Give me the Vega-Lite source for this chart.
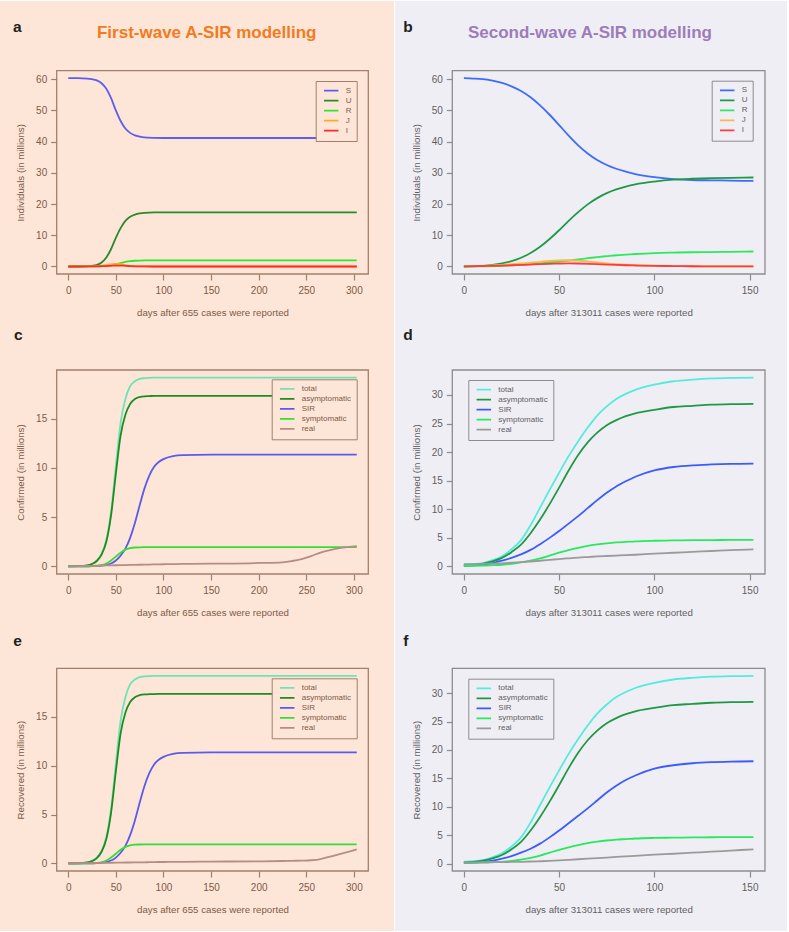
{
  "$schema": "https://vega.github.io/schema/vega-lite/v6.json",
  "background": "#ffffff",
  "padding": {"left": 0, "top": 1, "right": 2, "bottom": 1},
  "spacing": 1,
  "resolve": {"scale": {"color": "independent"}, "legend": {"color": "independent"}},
  "config": {
    "view": {"stroke": null},
    "font": "Liberation Sans",
    "axis": {"grid": false, "domain": false, "tickSize": 6, "tickWidth": 1.2, "labelFontSize": 10, "titleFontSize": 9.7, "titleFontWeight": "normal", "labelFlush": false, "labelOverlap": false, "labelFont": "Liberation Sans", "titleFont": "Liberation Sans"},
    "axisX": {"titlePadding": 12, "labelPadding": 5},
    "axisY": {"titlePadding": 10, "labelPadding": 4},
    "legend": {"orient": "none", "symbolType": "stroke", "symbolSize": 210, "symbolStrokeWidth": 2, "clipHeight": 9.3, "rowPadding": 0, "labelFontSize": 8, "labelFont": "Liberation Sans", "padding": 5, "labelOffset": 6, "symbolOffset": 2},
    "title": {"anchor": "start", "frame": "group", "fontSize": 15.5, "fontWeight": "bold", "color": "#231f20", "baseline": "alphabetic", "font": "Liberation Sans"},
    "line": {"interpolate": "monotone", "strokeWidth": 1.8}
  },
  "datasets": {
    "a": [
      {"day": 0, "S": 60.3, "U": 0, "R": 0, "J": 0, "I": 0},
      {"day": 10, "S": 60.3, "U": 0, "R": 0, "J": 0.01, "I": 0},
      {"day": 20, "S": 60.2, "U": 0.05, "R": 0.01, "J": 0.03, "I": 0.01},
      {"day": 25, "S": 60.0, "U": 0.2, "R": 0.02, "J": 0.06, "I": 0.02},
      {"day": 30, "S": 59.6, "U": 0.5, "R": 0.04, "J": 0.12, "I": 0.04},
      {"day": 35, "S": 58.7, "U": 1.3, "R": 0.09, "J": 0.25, "I": 0.08},
      {"day": 40, "S": 56.9, "U": 2.9, "R": 0.2, "J": 0.45, "I": 0.13},
      {"day": 45, "S": 53.9, "U": 5.6, "R": 0.4, "J": 0.7, "I": 0.22},
      {"day": 50, "S": 50.0, "U": 9.2, "R": 0.7, "J": 0.85, "I": 0.3},
      {"day": 55, "S": 46.6, "U": 12.3, "R": 1.1, "J": 0.75, "I": 0.3},
      {"day": 60, "S": 44.2, "U": 14.6, "R": 1.45, "J": 0.45, "I": 0.2},
      {"day": 65, "S": 42.8, "U": 15.9, "R": 1.7, "J": 0.2, "I": 0.1},
      {"day": 70, "S": 42.0, "U": 16.6, "R": 1.83, "J": 0.08, "I": 0.04},
      {"day": 75, "S": 41.6, "U": 17.0, "R": 1.9, "J": 0.03, "I": 0.02},
      {"day": 80, "S": 41.35, "U": 17.2, "R": 1.93, "J": 0.01, "I": 0.01},
      {"day": 90, "S": 41.2, "U": 17.3, "R": 1.95, "J": 0, "I": 0},
      {"day": 100, "S": 41.15, "U": 17.3, "R": 1.95, "J": 0, "I": 0},
      {"day": 150, "S": 41.15, "U": 17.3, "R": 1.95, "J": 0, "I": 0},
      {"day": 200, "S": 41.15, "U": 17.3, "R": 1.95, "J": 0, "I": 0},
      {"day": 250, "S": 41.15, "U": 17.3, "R": 1.95, "J": 0, "I": 0},
      {"day": 303, "S": 41.15, "U": 17.3, "R": 1.95, "J": 0, "I": 0}
    ],
    "b": [
      {"day": 0, "S": 60.3, "U": 0, "R": 0, "J": 0.05, "I": 0.05},
      {"day": 5, "S": 60.2, "U": 0.05, "R": 0.02, "J": 0.12, "I": 0.1},
      {"day": 10, "S": 60.0, "U": 0.2, "R": 0.05, "J": 0.2, "I": 0.15},
      {"day": 15, "S": 59.5, "U": 0.5, "R": 0.1, "J": 0.35, "I": 0.22},
      {"day": 20, "S": 58.8, "U": 1.0, "R": 0.2, "J": 0.5, "I": 0.3},
      {"day": 25, "S": 57.7, "U": 1.7, "R": 0.33, "J": 0.72, "I": 0.4},
      {"day": 30, "S": 56.2, "U": 2.8, "R": 0.5, "J": 0.95, "I": 0.5},
      {"day": 35, "S": 54.2, "U": 4.3, "R": 0.72, "J": 1.2, "I": 0.62},
      {"day": 40, "S": 51.6, "U": 6.3, "R": 1.0, "J": 1.5, "I": 0.75},
      {"day": 45, "S": 48.6, "U": 8.8, "R": 1.3, "J": 1.8, "I": 0.86},
      {"day": 50, "S": 45.3, "U": 11.6, "R": 1.6, "J": 1.95, "I": 0.95},
      {"day": 55, "S": 41.9, "U": 14.6, "R": 1.9, "J": 2.0, "I": 1.0},
      {"day": 60, "S": 38.8, "U": 17.4, "R": 2.3, "J": 1.85, "I": 0.95},
      {"day": 65, "S": 36.2, "U": 19.9, "R": 2.65, "J": 1.6, "I": 0.86},
      {"day": 70, "S": 34.1, "U": 21.9, "R": 3.0, "J": 1.3, "I": 0.75},
      {"day": 75, "S": 32.5, "U": 23.5, "R": 3.3, "J": 1.0, "I": 0.62},
      {"day": 80, "S": 31.3, "U": 24.7, "R": 3.6, "J": 0.75, "I": 0.5},
      {"day": 85, "S": 30.4, "U": 25.6, "R": 3.8, "J": 0.58, "I": 0.4},
      {"day": 90, "S": 29.6, "U": 26.3, "R": 4.0, "J": 0.45, "I": 0.32},
      {"day": 100, "S": 28.6, "U": 27.2, "R": 4.3, "J": 0.25, "I": 0.2},
      {"day": 110, "S": 28.0, "U": 27.8, "R": 4.45, "J": 0.13, "I": 0.12},
      {"day": 120, "S": 27.7, "U": 28.1, "R": 4.55, "J": 0.08, "I": 0.08},
      {"day": 130, "S": 27.6, "U": 28.3, "R": 4.6, "J": 0.05, "I": 0.05},
      {"day": 140, "S": 27.5, "U": 28.4, "R": 4.7, "J": 0.04, "I": 0.04},
      {"day": 152, "S": 27.4, "U": 28.5, "R": 4.8, "J": 0.03, "I": 0.03}
    ],
    "c": [
      {"day": 0, "total": 0, "asymptomatic": 0, "SIR": 0, "symptomatic": 0, "real": 0.02},
      {"day": 10, "total": 0.02, "asymptomatic": 0.02, "SIR": 0, "symptomatic": 0, "real": 0.04},
      {"day": 20, "total": 0.1, "asymptomatic": 0.1, "SIR": 0.01, "symptomatic": 0.01, "real": 0.05},
      {"day": 25, "total": 0.25, "asymptomatic": 0.25, "SIR": 0.02, "symptomatic": 0.02, "real": 0.06},
      {"day": 30, "total": 0.6, "asymptomatic": 0.55, "SIR": 0.05, "symptomatic": 0.05, "real": 0.07},
      {"day": 35, "total": 1.3, "asymptomatic": 1.2, "SIR": 0.09, "symptomatic": 0.12, "real": 0.08},
      {"day": 40, "total": 2.7, "asymptomatic": 2.5, "SIR": 0.15, "symptomatic": 0.3, "real": 0.1},
      {"day": 45, "total": 5.6, "asymptomatic": 5.2, "SIR": 0.3, "symptomatic": 0.6, "real": 0.11},
      {"day": 50, "total": 10.2, "asymptomatic": 9.4, "SIR": 0.6, "symptomatic": 1.0, "real": 0.12},
      {"day": 55, "total": 14.6, "asymptomatic": 13.3, "SIR": 1.1, "symptomatic": 1.4, "real": 0.13},
      {"day": 60, "total": 17.0, "asymptomatic": 15.4, "SIR": 1.8, "symptomatic": 1.7, "real": 0.14},
      {"day": 65, "total": 18.3, "asymptomatic": 16.5, "SIR": 2.9, "symptomatic": 1.85, "real": 0.15},
      {"day": 70, "total": 18.8, "asymptomatic": 17.0, "SIR": 4.4, "symptomatic": 1.92, "real": 0.16},
      {"day": 75, "total": 19.05, "asymptomatic": 17.2, "SIR": 6.2, "symptomatic": 1.94, "real": 0.17},
      {"day": 80, "total": 19.12, "asymptomatic": 17.28, "SIR": 7.9, "symptomatic": 1.95, "real": 0.18},
      {"day": 85, "total": 19.15, "asymptomatic": 17.3, "SIR": 9.2, "symptomatic": 1.95, "real": 0.19},
      {"day": 90, "total": 19.17, "asymptomatic": 17.32, "SIR": 10.1, "symptomatic": 1.95, "real": 0.2},
      {"day": 95, "total": 19.18, "asymptomatic": 17.33, "SIR": 10.6, "symptomatic": 1.95, "real": 0.21},
      {"day": 100, "total": 19.18, "asymptomatic": 17.33, "SIR": 10.9, "symptomatic": 1.95, "real": 0.22},
      {"day": 110, "total": 19.18, "asymptomatic": 17.33, "SIR": 11.2, "symptomatic": 1.95, "real": 0.24},
      {"day": 120, "total": 19.18, "asymptomatic": 17.33, "SIR": 11.3, "symptomatic": 1.95, "real": 0.25},
      {"day": 150, "total": 19.18, "asymptomatic": 17.33, "SIR": 11.35, "symptomatic": 1.95, "real": 0.28},
      {"day": 200, "total": 19.18, "asymptomatic": 17.33, "SIR": 11.35, "symptomatic": 1.95, "real": 0.35},
      {"day": 225, "total": 19.18, "asymptomatic": 17.33, "SIR": 11.35, "symptomatic": 1.95, "real": 0.42},
      {"day": 235, "total": 19.18, "asymptomatic": 17.33, "SIR": 11.35, "symptomatic": 1.95, "real": 0.55},
      {"day": 245, "total": 19.18, "asymptomatic": 17.33, "SIR": 11.35, "symptomatic": 1.95, "real": 0.75},
      {"day": 255, "total": 19.18, "asymptomatic": 17.33, "SIR": 11.35, "symptomatic": 1.95, "real": 1.05},
      {"day": 265, "total": 19.18, "asymptomatic": 17.33, "SIR": 11.35, "symptomatic": 1.95, "real": 1.4},
      {"day": 275, "total": 19.18, "asymptomatic": 17.33, "SIR": 11.35, "symptomatic": 1.95, "real": 1.65},
      {"day": 285, "total": 19.18, "asymptomatic": 17.33, "SIR": 11.35, "symptomatic": 1.95, "real": 1.85},
      {"day": 295, "total": 19.18, "asymptomatic": 17.33, "SIR": 11.35, "symptomatic": 1.95, "real": 1.98},
      {"day": 303, "total": 19.18, "asymptomatic": 17.33, "SIR": 11.35, "symptomatic": 1.95, "real": 2.07}
    ],
    "e": [
      {"day": 0, "total": 0, "asymptomatic": 0, "SIR": 0, "symptomatic": 0, "real": 0.02},
      {"day": 10, "total": 0.02, "asymptomatic": 0.02, "SIR": 0, "symptomatic": 0, "real": 0.03},
      {"day": 20, "total": 0.1, "asymptomatic": 0.1, "SIR": 0.01, "symptomatic": 0.01, "real": 0.04},
      {"day": 25, "total": 0.25, "asymptomatic": 0.25, "SIR": 0.02, "symptomatic": 0.02, "real": 0.05},
      {"day": 30, "total": 0.6, "asymptomatic": 0.55, "SIR": 0.05, "symptomatic": 0.05, "real": 0.05},
      {"day": 35, "total": 1.3, "asymptomatic": 1.2, "SIR": 0.09, "symptomatic": 0.12, "real": 0.06},
      {"day": 40, "total": 2.7, "asymptomatic": 2.5, "SIR": 0.15, "symptomatic": 0.3, "real": 0.06},
      {"day": 45, "total": 5.6, "asymptomatic": 5.2, "SIR": 0.3, "symptomatic": 0.6, "real": 0.07},
      {"day": 50, "total": 10.2, "asymptomatic": 9.4, "SIR": 0.6, "symptomatic": 1.0, "real": 0.08},
      {"day": 55, "total": 14.6, "asymptomatic": 13.3, "SIR": 1.1, "symptomatic": 1.4, "real": 0.09},
      {"day": 60, "total": 17.0, "asymptomatic": 15.4, "SIR": 1.8, "symptomatic": 1.7, "real": 0.1},
      {"day": 65, "total": 18.3, "asymptomatic": 16.5, "SIR": 2.9, "symptomatic": 1.85, "real": 0.1},
      {"day": 70, "total": 18.8, "asymptomatic": 17.0, "SIR": 4.4, "symptomatic": 1.92, "real": 0.11},
      {"day": 75, "total": 19.05, "asymptomatic": 17.2, "SIR": 6.2, "symptomatic": 1.94, "real": 0.12},
      {"day": 80, "total": 19.12, "asymptomatic": 17.28, "SIR": 7.9, "symptomatic": 1.95, "real": 0.12},
      {"day": 85, "total": 19.15, "asymptomatic": 17.3, "SIR": 9.2, "symptomatic": 1.95, "real": 0.13},
      {"day": 90, "total": 19.17, "asymptomatic": 17.32, "SIR": 10.1, "symptomatic": 1.95, "real": 0.14},
      {"day": 95, "total": 19.18, "asymptomatic": 17.33, "SIR": 10.6, "symptomatic": 1.95, "real": 0.15},
      {"day": 100, "total": 19.18, "asymptomatic": 17.33, "SIR": 10.9, "symptomatic": 1.95, "real": 0.15},
      {"day": 110, "total": 19.18, "asymptomatic": 17.33, "SIR": 11.2, "symptomatic": 1.95, "real": 0.16},
      {"day": 120, "total": 19.18, "asymptomatic": 17.33, "SIR": 11.3, "symptomatic": 1.95, "real": 0.17},
      {"day": 150, "total": 19.18, "asymptomatic": 17.33, "SIR": 11.35, "symptomatic": 1.95, "real": 0.19},
      {"day": 200, "total": 19.18, "asymptomatic": 17.33, "SIR": 11.35, "symptomatic": 1.95, "real": 0.22},
      {"day": 225, "total": 19.18, "asymptomatic": 17.33, "SIR": 11.35, "symptomatic": 1.95, "real": 0.25},
      {"day": 235, "total": 19.18, "asymptomatic": 17.33, "SIR": 11.35, "symptomatic": 1.95, "real": 0.27},
      {"day": 245, "total": 19.18, "asymptomatic": 17.33, "SIR": 11.35, "symptomatic": 1.95, "real": 0.29},
      {"day": 255, "total": 19.18, "asymptomatic": 17.33, "SIR": 11.35, "symptomatic": 1.95, "real": 0.33},
      {"day": 265, "total": 19.18, "asymptomatic": 17.33, "SIR": 11.35, "symptomatic": 1.95, "real": 0.45},
      {"day": 275, "total": 19.18, "asymptomatic": 17.33, "SIR": 11.35, "symptomatic": 1.95, "real": 0.7},
      {"day": 285, "total": 19.18, "asymptomatic": 17.33, "SIR": 11.35, "symptomatic": 1.95, "real": 0.95},
      {"day": 295, "total": 19.18, "asymptomatic": 17.33, "SIR": 11.35, "symptomatic": 1.95, "real": 1.22},
      {"day": 303, "total": 19.18, "asymptomatic": 17.33, "SIR": 11.35, "symptomatic": 1.95, "real": 1.45}
    ],
    "d": [
      {"day": 0, "total": 0.3, "asymptomatic": 0.2, "SIR": 0.1, "symptomatic": 0.1, "real": 0.4},
      {"day": 5, "total": 0.4, "asymptomatic": 0.3, "SIR": 0.2, "symptomatic": 0.12, "real": 0.42},
      {"day": 10, "total": 0.6, "asymptomatic": 0.5, "SIR": 0.35, "symptomatic": 0.15, "real": 0.45},
      {"day": 15, "total": 1.1, "asymptomatic": 0.9, "SIR": 0.6, "symptomatic": 0.22, "real": 0.5},
      {"day": 20, "total": 1.8, "asymptomatic": 1.5, "SIR": 1.0, "symptomatic": 0.3, "real": 0.55},
      {"day": 25, "total": 3.0, "asymptomatic": 2.5, "SIR": 1.5, "symptomatic": 0.45, "real": 0.65},
      {"day": 30, "total": 4.6, "asymptomatic": 3.8, "SIR": 2.1, "symptomatic": 0.7, "real": 0.75},
      {"day": 35, "total": 7.2, "asymptomatic": 5.8, "SIR": 2.9, "symptomatic": 1.0, "real": 0.87},
      {"day": 40, "total": 10.3, "asymptomatic": 8.2, "SIR": 3.9, "symptomatic": 1.4, "real": 1.0},
      {"day": 45, "total": 13.4, "asymptomatic": 10.9, "SIR": 5.0, "symptomatic": 1.9, "real": 1.15},
      {"day": 50, "total": 16.4, "asymptomatic": 13.8, "SIR": 6.2, "symptomatic": 2.4, "real": 1.3},
      {"day": 55, "total": 19.3, "asymptomatic": 16.8, "SIR": 7.5, "symptomatic": 2.85, "real": 1.43},
      {"day": 60, "total": 21.9, "asymptomatic": 19.5, "SIR": 8.8, "symptomatic": 3.25, "real": 1.55},
      {"day": 65, "total": 24.3, "asymptomatic": 21.7, "SIR": 10.2, "symptomatic": 3.6, "real": 1.65},
      {"day": 70, "total": 26.4, "asymptomatic": 23.4, "SIR": 11.6, "symptomatic": 3.85, "real": 1.75},
      {"day": 75, "total": 28.0, "asymptomatic": 24.7, "SIR": 12.9, "symptomatic": 4.05, "real": 1.83},
      {"day": 80, "total": 29.3, "asymptomatic": 25.6, "SIR": 14.0, "symptomatic": 4.2, "real": 1.9},
      {"day": 85, "total": 30.2, "asymptomatic": 26.3, "SIR": 14.9, "symptomatic": 4.3, "real": 1.97},
      {"day": 90, "total": 30.9, "asymptomatic": 26.8, "SIR": 15.7, "symptomatic": 4.4, "real": 2.05},
      {"day": 100, "total": 31.8, "asymptomatic": 27.4, "SIR": 16.8, "symptomatic": 4.5, "real": 2.25},
      {"day": 110, "total": 32.4, "asymptomatic": 27.9, "SIR": 17.4, "symptomatic": 4.55, "real": 2.4},
      {"day": 120, "total": 32.7, "asymptomatic": 28.1, "SIR": 17.7, "symptomatic": 4.6, "real": 2.55},
      {"day": 130, "total": 32.9, "asymptomatic": 28.3, "SIR": 17.85, "symptomatic": 4.62, "real": 2.7},
      {"day": 140, "total": 33.0, "asymptomatic": 28.4, "SIR": 17.95, "symptomatic": 4.64, "real": 2.85},
      {"day": 152, "total": 33.05, "asymptomatic": 28.45, "SIR": 18.0, "symptomatic": 4.65, "real": 3.0}
    ],
    "f": [
      {"day": 0, "total": 0.3, "asymptomatic": 0.2, "SIR": 0.1, "symptomatic": 0.1, "real": 0.2},
      {"day": 5, "total": 0.4, "asymptomatic": 0.3, "SIR": 0.15, "symptomatic": 0.12, "real": 0.21},
      {"day": 10, "total": 0.6, "asymptomatic": 0.5, "SIR": 0.3, "symptomatic": 0.15, "real": 0.22},
      {"day": 15, "total": 1.1, "asymptomatic": 0.9, "SIR": 0.5, "symptomatic": 0.22, "real": 0.23},
      {"day": 20, "total": 1.8, "asymptomatic": 1.5, "SIR": 0.85, "symptomatic": 0.3, "real": 0.25},
      {"day": 25, "total": 3.0, "asymptomatic": 2.5, "SIR": 1.3, "symptomatic": 0.45, "real": 0.27},
      {"day": 30, "total": 4.6, "asymptomatic": 3.8, "SIR": 1.9, "symptomatic": 0.7, "real": 0.3},
      {"day": 35, "total": 7.2, "asymptomatic": 5.8, "SIR": 2.6, "symptomatic": 1.0, "real": 0.35},
      {"day": 40, "total": 10.3, "asymptomatic": 8.2, "SIR": 3.5, "symptomatic": 1.4, "real": 0.4},
      {"day": 45, "total": 13.4, "asymptomatic": 10.9, "SIR": 4.6, "symptomatic": 1.9, "real": 0.47},
      {"day": 50, "total": 16.4, "asymptomatic": 13.8, "SIR": 5.8, "symptomatic": 2.4, "real": 0.55},
      {"day": 55, "total": 19.3, "asymptomatic": 16.8, "SIR": 7.1, "symptomatic": 2.85, "real": 0.65},
      {"day": 60, "total": 21.9, "asymptomatic": 19.5, "SIR": 8.4, "symptomatic": 3.25, "real": 0.75},
      {"day": 65, "total": 24.3, "asymptomatic": 21.7, "SIR": 9.7, "symptomatic": 3.6, "real": 0.85},
      {"day": 70, "total": 26.4, "asymptomatic": 23.4, "SIR": 11.1, "symptomatic": 3.85, "real": 0.95},
      {"day": 75, "total": 28.0, "asymptomatic": 24.7, "SIR": 12.5, "symptomatic": 4.05, "real": 1.05},
      {"day": 80, "total": 29.3, "asymptomatic": 25.6, "SIR": 13.7, "symptomatic": 4.2, "real": 1.15},
      {"day": 85, "total": 30.2, "asymptomatic": 26.3, "SIR": 14.7, "symptomatic": 4.3, "real": 1.25},
      {"day": 90, "total": 30.9, "asymptomatic": 26.8, "SIR": 15.5, "symptomatic": 4.4, "real": 1.35},
      {"day": 100, "total": 31.8, "asymptomatic": 27.4, "SIR": 16.7, "symptomatic": 4.5, "real": 1.55},
      {"day": 110, "total": 32.4, "asymptomatic": 27.9, "SIR": 17.3, "symptomatic": 4.55, "real": 1.72},
      {"day": 120, "total": 32.7, "asymptomatic": 28.1, "SIR": 17.65, "symptomatic": 4.6, "real": 1.9},
      {"day": 130, "total": 32.9, "asymptomatic": 28.3, "SIR": 17.85, "symptomatic": 4.62, "real": 2.08},
      {"day": 140, "total": 33.0, "asymptomatic": 28.4, "SIR": 17.95, "symptomatic": 4.64, "real": 2.27},
      {"day": 152, "total": 33.05, "asymptomatic": 28.45, "SIR": 18.0, "symptomatic": 4.65, "real": 2.5}
    ]
  },
  "hconcat": [
    {
      "spacing": 0,
      "resolve": {"scale": {"color": "independent"}, "legend": {"color": "independent"}},
      "vconcat": [
        {
          "width": 394, "height": 321,
          "view": {"fill": "#fde6d8", "stroke": null},
          "title": {"text": "a", "offset": -34, "dx": 13},
          "layer": [
            {
              "data": {"values": [{}]},
              "mark": {"type": "rect", "fill": "transparent", "stroke": "#a0806c", "strokeWidth": 1.3},
              "encoding": {
                "x": {"datum": -12.12, "type": "quantitative", "scale": {"domain": [-12.12, 315.12], "range": [56.7, 368.3], "nice": false, "zero": false}},
                "x2": {"datum": 315.12},
                "y": {"datum": -2.41, "type": "quantitative", "scale": {"domain": [-2.41, 62.71], "range": [273, 69.7], "nice": false, "zero": false}},
                "y2": {"datum": 62.71}
              }
            },
            {
              "data": {"name": "a"},
              "transform": [{"fold": ["S", "U", "R", "J", "I"], "as": ["series", "value"]}],
              "mark": {"type": "line"},
              "encoding": {
                "x": {"field": "day", "type": "quantitative", "scale": {"domain": [-12.12, 315.12], "range": [56.7, 368.3], "nice": false, "zero": false},
                  "axis": {"values": [0, 50, 100, 150, 200, 250, 300], "format": "d", "offset": -48, "title": "days after 655 cases were reported", "tickColor": "#a0806c", "labelColor": "#7d5a46", "titleColor": "#7d5a46"}},
                "y": {"field": "value", "type": "quantitative", "scale": {"domain": [-2.41, 62.71], "range": [273, 69.7], "nice": false, "zero": false},
                  "axis": {"values": [0, 10, 20, 30, 40, 50, 60], "format": "d", "offset": -56.7, "title": "Individuals (in millions)", "tickColor": "#a0806c", "labelColor": "#7d5a46", "titleColor": "#7d5a46"}},
                "color": {"field": "series", "type": "nominal",
                  "scale": {"domain": ["S", "U", "R", "J", "I"], "range": ["#5d5df0", "#2a8a2a", "#2ee62e", "#ffaa22", "#ff2a2a"]},
                  "legend": {"title": null, "orient": "none", "legendX": 315.7, "legendY": 80, "labelColor": "#7d5a46", "strokeColor": "#a0806c", "fillColor": "#fde6d8"}}
              }
            },
            {
              "data": {"values": [{}]},
              "mark": {"type": "text", "text": "First-wave A-SIR modelling", "font": "Liberation Sans", "fontSize": 17, "fontWeight": "bold", "color": "#f47a20", "align": "center", "baseline": "alphabetic"},
              "encoding": {
                "x": {"datum": 145.4, "type": "quantitative", "scale": {"domain": [-12.12, 315.12], "range": [56.7, 368.3], "nice": false, "zero": false}},
                "y": {"datum": 73.09, "type": "quantitative", "scale": {"domain": [-2.41, 62.71], "range": [273, 69.7], "nice": false, "zero": false}}
              }
            }
          ]
        },
        {
          "width": 394, "height": 298,
          "view": {"fill": "#fde6d8", "stroke": null},
          "title": {"text": "c", "offset": -21.3, "dx": 14},
          "layer": [
            {
              "data": {"values": [{}]},
              "mark": {"type": "rect", "fill": "transparent", "stroke": "#a0806c", "strokeWidth": 1.3},
              "encoding": {
                "x": {"datum": -12.12, "type": "quantitative", "scale": {"domain": [-12.12, 315.12], "range": [56.7, 368.3], "nice": false, "zero": false}},
                "x2": {"datum": 315.12},
                "y": {"datum": -0.77, "type": "quantitative", "scale": {"domain": [-0.77, 19.95], "range": [252, 48], "nice": false, "zero": false}},
                "y2": {"datum": 19.95}
              }
            },
            {
              "data": {"name": "c"},
              "transform": [{"fold": ["total", "asymptomatic", "SIR", "symptomatic", "real"], "as": ["series", "value"]}],
              "mark": {"type": "line"},
              "encoding": {
                "x": {"field": "day", "type": "quantitative", "scale": {"domain": [-12.12, 315.12], "range": [56.7, 368.3], "nice": false, "zero": false},
                  "axis": {"values": [0, 50, 100, 150, 200, 250, 300], "format": "d", "offset": -46, "title": "days after 655 cases were reported", "tickColor": "#a0806c", "labelColor": "#7d5a46", "titleColor": "#7d5a46"}},
                "y": {"field": "value", "type": "quantitative", "scale": {"domain": [-0.77, 19.95], "range": [252, 48], "nice": false, "zero": false},
                  "axis": {"values": [0, 5, 10, 15], "format": "d", "offset": -56.7, "title": "Confirmed (in millions)", "tickColor": "#a0806c", "labelColor": "#7d5a46", "titleColor": "#7d5a46"}},
                "color": {"field": "series", "type": "nominal",
                  "scale": {"domain": ["total", "asymptomatic", "SIR", "symptomatic", "real"], "range": ["#6fe3b5", "#1f8c1f", "#5a5aec", "#34de34", "#b58d85"]},
                  "legend": {"title": null, "orient": "none", "legendX": 271.7, "legendY": 57.3, "labelColor": "#7d5a46", "strokeColor": "#a0806c", "fillColor": "#fde6d8"}}
              }
            }
          ]
        },
        {
          "width": 394, "height": 311,
          "view": {"fill": "#fde6d8", "stroke": null},
          "title": {"text": "e", "offset": -29, "dx": 13.3},
          "layer": [
            {
              "data": {"values": [{}]},
              "mark": {"type": "rect", "fill": "transparent", "stroke": "#a0806c", "strokeWidth": 1.3},
              "encoding": {
                "x": {"datum": -12.12, "type": "quantitative", "scale": {"domain": [-12.12, 315.12], "range": [56.7, 368.3], "nice": false, "zero": false}},
                "x2": {"datum": 315.12},
                "y": {"datum": -0.77, "type": "quantitative", "scale": {"domain": [-0.77, 19.95], "range": [251, 48.3], "nice": false, "zero": false}},
                "y2": {"datum": 19.95}
              }
            },
            {
              "data": {"name": "e"},
              "transform": [{"fold": ["total", "asymptomatic", "SIR", "symptomatic", "real"], "as": ["series", "value"]}],
              "mark": {"type": "line"},
              "encoding": {
                "x": {"field": "day", "type": "quantitative", "scale": {"domain": [-12.12, 315.12], "range": [56.7, 368.3], "nice": false, "zero": false},
                  "axis": {"values": [0, 50, 100, 150, 200, 250, 300], "format": "d", "offset": -60, "title": "days after 655 cases were reported", "tickColor": "#a0806c", "labelColor": "#7d5a46", "titleColor": "#7d5a46"}},
                "y": {"field": "value", "type": "quantitative", "scale": {"domain": [-0.77, 19.95], "range": [251, 48.3], "nice": false, "zero": false},
                  "axis": {"values": [0, 5, 10, 15], "format": "d", "offset": -56.7, "title": "Recovered (in millions)", "tickColor": "#a0806c", "labelColor": "#7d5a46", "titleColor": "#7d5a46"}},
                "color": {"field": "series", "type": "nominal",
                  "scale": {"domain": ["total", "asymptomatic", "SIR", "symptomatic", "real"], "range": ["#6fe3b5", "#1f8c1f", "#5a5aec", "#34de34", "#b58d85"]},
                  "legend": {"title": null, "orient": "none", "legendX": 271.7, "legendY": 58.3, "labelColor": "#7d5a46", "strokeColor": "#a0806c", "fillColor": "#fde6d8"}}
              }
            }
          ]
        }
      ]
    },
    {
      "spacing": 0,
      "resolve": {"scale": {"color": "independent"}, "legend": {"color": "independent"}},
      "vconcat": [
        {
          "width": 392, "height": 321,
          "view": {"fill": "#f0eef5", "stroke": null},
          "title": {"text": "b", "offset": -34.7, "dx": 8.3},
          "layer": [
            {
              "data": {"values": [{}]},
              "mark": {"type": "rect", "fill": "transparent", "stroke": "#8c8c8c", "strokeWidth": 1.3},
              "encoding": {
                "x": {"datum": -6.08, "type": "quantitative", "scale": {"domain": [-6.08, 158.08], "range": [57.3, 370], "nice": false, "zero": false}},
                "x2": {"datum": 158.08},
                "y": {"datum": -2.41, "type": "quantitative", "scale": {"domain": [-2.41, 62.71], "range": [273, 69.7], "nice": false, "zero": false}},
                "y2": {"datum": 62.71}
              }
            },
            {
              "data": {"name": "b"},
              "transform": [{"fold": ["S", "U", "R", "J", "I"], "as": ["series", "value"]}],
              "mark": {"type": "line"},
              "encoding": {
                "x": {"field": "day", "type": "quantitative", "scale": {"domain": [-6.08, 158.08], "range": [57.3, 370], "nice": false, "zero": false},
                  "axis": {"values": [0, 50, 100, 150], "format": "d", "offset": -48, "title": "days after 313011 cases were reported", "tickColor": "#8c8c8c", "labelColor": "#5f5f5f", "titleColor": "#5f5f5f"}},
                "y": {"field": "value", "type": "quantitative", "scale": {"domain": [-2.41, 62.71], "range": [273, 69.7], "nice": false, "zero": false},
                  "axis": {"values": [0, 10, 20, 30, 40, 50, 60], "format": "d", "offset": -57.3, "title": "Individuals (in millions)", "tickColor": "#8c8c8c", "labelColor": "#5f5f5f", "titleColor": "#5f5f5f"}},
                "color": {"field": "series", "type": "nominal",
                  "scale": {"domain": ["S", "U", "R", "J", "I"], "range": ["#3d6bff", "#1e9a46", "#2ee85e", "#ffb54a", "#ff3a3a"]},
                  "legend": {"title": null, "orient": "none", "legendX": 316.7, "legendY": 79.7, "labelColor": "#5f5f5f", "strokeColor": "#8c8c8c", "fillColor": "#f0eef5"}}
              }
            },
            {
              "data": {"values": [{}]},
              "mark": {"type": "text", "text": "Second-wave A-SIR modelling", "font": "Liberation Sans", "fontSize": 17, "fontWeight": "bold", "color": "#9b7db9", "align": "center", "baseline": "alphabetic"},
              "encoding": {
                "x": {"datum": 66.2, "type": "quantitative", "scale": {"domain": [-6.08, 158.08], "range": [57.3, 370], "nice": false, "zero": false}},
                "y": {"datum": 73.09, "type": "quantitative", "scale": {"domain": [-2.41, 62.71], "range": [273, 69.7], "nice": false, "zero": false}}
              }
            }
          ]
        },
        {
          "width": 392, "height": 298,
          "view": {"fill": "#f0eef5", "stroke": null},
          "title": {"text": "d", "offset": -21.3, "dx": 8.3},
          "layer": [
            {
              "data": {"values": [{}]},
              "mark": {"type": "rect", "fill": "transparent", "stroke": "#8c8c8c", "strokeWidth": 1.3},
              "encoding": {
                "x": {"datum": -6.08, "type": "quantitative", "scale": {"domain": [-6.08, 158.08], "range": [57.3, 370], "nice": false, "zero": false}},
                "x2": {"datum": 158.08},
                "y": {"datum": -1.32, "type": "quantitative", "scale": {"domain": [-1.32, 34.37], "range": [252, 48], "nice": false, "zero": false}},
                "y2": {"datum": 34.37}
              }
            },
            {
              "data": {"name": "d"},
              "transform": [{"fold": ["total", "asymptomatic", "SIR", "symptomatic", "real"], "as": ["series", "value"]}],
              "mark": {"type": "line"},
              "encoding": {
                "x": {"field": "day", "type": "quantitative", "scale": {"domain": [-6.08, 158.08], "range": [57.3, 370], "nice": false, "zero": false},
                  "axis": {"values": [0, 50, 100, 150], "format": "d", "offset": -46, "title": "days after 313011 cases were reported", "tickColor": "#8c8c8c", "labelColor": "#5f5f5f", "titleColor": "#5f5f5f"}},
                "y": {"field": "value", "type": "quantitative", "scale": {"domain": [-1.32, 34.37], "range": [252, 48], "nice": false, "zero": false},
                  "axis": {"values": [0, 5, 10, 15, 20, 25, 30], "format": "d", "offset": -57.3, "title": "Confirmed (in millions)", "tickColor": "#8c8c8c", "labelColor": "#5f5f5f", "titleColor": "#5f5f5f"}},
                "color": {"field": "series", "type": "nominal",
                  "scale": {"domain": ["total", "asymptomatic", "SIR", "symptomatic", "real"], "range": ["#52ecdc", "#1f9945", "#3a5cff", "#26ea5c", "#9a9a9a"]},
                  "legend": {"title": null, "orient": "none", "legendX": 73.3, "legendY": 58, "labelColor": "#5f5f5f", "strokeColor": "#8c8c8c", "fillColor": "#f0eef5"}}
              }
            }
          ]
        },
        {
          "width": 392, "height": 311,
          "view": {"fill": "#f0eef5", "stroke": null},
          "title": {"text": "f", "offset": -29, "dx": 8.3},
          "layer": [
            {
              "data": {"values": [{}]},
              "mark": {"type": "rect", "fill": "transparent", "stroke": "#8c8c8c", "strokeWidth": 1.3},
              "encoding": {
                "x": {"datum": -6.08, "type": "quantitative", "scale": {"domain": [-6.08, 158.08], "range": [57.3, 370], "nice": false, "zero": false}},
                "x2": {"datum": 158.08},
                "y": {"datum": -1.32, "type": "quantitative", "scale": {"domain": [-1.32, 34.37], "range": [251, 48.3], "nice": false, "zero": false}},
                "y2": {"datum": 34.37}
              }
            },
            {
              "data": {"name": "f"},
              "transform": [{"fold": ["total", "asymptomatic", "SIR", "symptomatic", "real"], "as": ["series", "value"]}],
              "mark": {"type": "line"},
              "encoding": {
                "x": {"field": "day", "type": "quantitative", "scale": {"domain": [-6.08, 158.08], "range": [57.3, 370], "nice": false, "zero": false},
                  "axis": {"values": [0, 50, 100, 150], "format": "d", "offset": -60, "title": "days after 313011 cases were reported", "tickColor": "#8c8c8c", "labelColor": "#5f5f5f", "titleColor": "#5f5f5f"}},
                "y": {"field": "value", "type": "quantitative", "scale": {"domain": [-1.32, 34.37], "range": [251, 48.3], "nice": false, "zero": false},
                  "axis": {"values": [0, 5, 10, 15, 20, 25, 30], "format": "d", "offset": -57.3, "title": "Recovered (in millions)", "tickColor": "#8c8c8c", "labelColor": "#5f5f5f", "titleColor": "#5f5f5f"}},
                "color": {"field": "series", "type": "nominal",
                  "scale": {"domain": ["total", "asymptomatic", "SIR", "symptomatic", "real"], "range": ["#52ecdc", "#1f9945", "#3a5cff", "#26ea5c", "#9a9a9a"]},
                  "legend": {"title": null, "orient": "none", "legendX": 73.3, "legendY": 58.7, "labelColor": "#5f5f5f", "strokeColor": "#8c8c8c", "fillColor": "#f0eef5"}}
              }
            }
          ]
        }
      ]
    }
  ]
}
